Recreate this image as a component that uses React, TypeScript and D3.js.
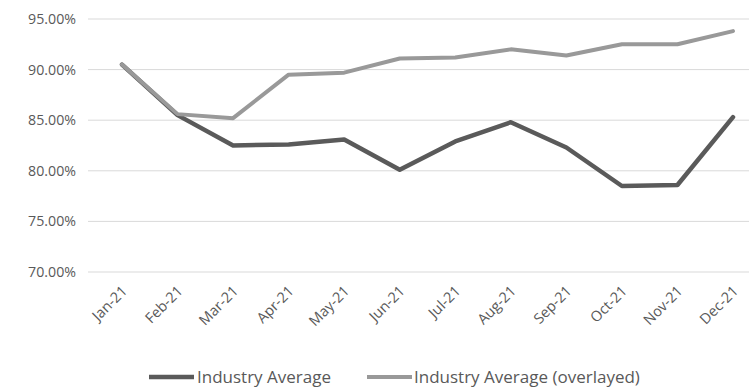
import React from "react";
import * as d3 from "d3";

const categories = ["Jan-21","Feb-21","Mar-21","Apr-21","May-21","Jun-21","Jul-21","Aug-21","Sep-21","Oct-21","Nov-21","Dec-21"];
const industryAverage = [90.5, 85.5, 82.5, 82.6, 83.1, 80.1, 82.9, 84.8, 82.3, 78.5, 78.6, 85.3];
const industryOverlayed = [90.5, 85.6, 85.2, 89.5, 89.7, 91.1, 91.2, 92.0, 91.4, 92.5, 92.5, 93.8];
const yTicks = [70, 75, 80, 85, 90, 95];
const seriesNames = ["Industry Average", "Industry Average (overlayed)"];

const W = 749, H = 388;
const FONT = "'Open Sans', 'Liberation Sans', sans-serif";
const TEXT = "#595959";
const DARK = "#5a5a5a";
const LIGHT = "#999999";

export default function App() {
  const x = d3.scalePoint<string>().domain(categories).range([122, 733]);
  const y = d3.scaleLinear().domain([70, 95]).range([272, 19]);
  const line = d3.line<number>().x((_, i) => x(categories[i])!).y(d => y(d));

  return (
    <svg width={W} height={H} style={{ position: "absolute", left: 0, top: 0, background: "#fff" }} fontFamily={FONT}>
      {yTicks.map(t => (
        <g key={t}>
          <line x1={88} x2={749} y1={y(t)} y2={y(t)} stroke="#d9d9d9" strokeWidth={1} />
          <text x={76} y={y(t)} dy="0.35em" textAnchor="end" fontSize={14.2} fill={TEXT}>{t.toFixed(2)}%</text>
        </g>
      ))}
      {categories.map(c => (
        <text key={c} transform={`translate(${x(c)! + 6},${292}) rotate(-45)`} textAnchor="end" fontSize={14.5} fill={TEXT}>{c}</text>
      ))}
      <path d={line(industryAverage)!} fill="none" stroke={DARK} strokeWidth={4.5} strokeLinejoin="round" strokeLinecap="round" />
      <path d={line(industryOverlayed)!} fill="none" stroke={LIGHT} strokeWidth={4} strokeLinejoin="round" strokeLinecap="round" />
      <g>
        <line x1={149} x2={194} y1={377} y2={377} stroke={DARK} strokeWidth={4.5} />
        <text x={197} y={377} dy="0.35em" fontSize={17} fill={TEXT}>{seriesNames[0]}</text>
        <line x1={367} x2={412} y1={377} y2={377} stroke={LIGHT} strokeWidth={4} />
        <text x={414} y={377} dy="0.35em" fontSize={17} fill={TEXT}>{seriesNames[1]}</text>
      </g>
    </svg>
  );
}
